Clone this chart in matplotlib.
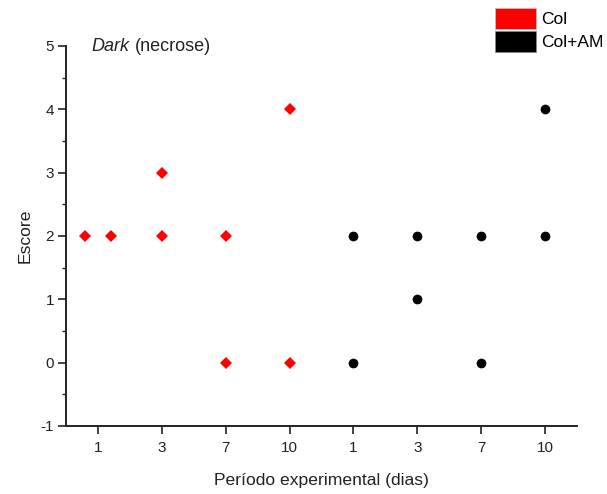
import matplotlib
matplotlib.use("Agg")
import matplotlib.pyplot as plt
from matplotlib.patches import Patch
from matplotlib.ticker import MultipleLocator

plt.rcParams['font.family'] = ['Liberation Sans', 'DejaVu Sans']
plt.rcParams['axes.unicode_minus'] = False

# Category slots along the x axis and their day labels
day_labels = ["1", "3", "7", "10", "1", "3", "7", "10"]

# Scores per animal: slot index (1-based) and score
col_slot = [1, 1, 2, 2, 3, 3, 4, 4]
col_score = [2, 2, 3, 2, 2, 0, 4, 0]
colam_slot = [5, 5, 6, 6, 7, 7, 8, 8]
colam_score = [2, 0, 2, 1, 2, 0, 4, 2]

TEXT = '#222222'


def dodge(slots, scores, step=0.2):
    """Spread coincident points horizontally so they stay visible."""
    xs = []
    for i, (s, v) in enumerate(zip(slots, scores)):
        dup = [j for j, (s2, v2) in enumerate(zip(slots, scores)) if s2 == s and v2 == v]
        if len(dup) > 1:
            k = dup.index(i)
            xs.append(s + (k - (len(dup) - 1) / 2) * 2 * step)
        else:
            xs.append(s)
    return xs


fig = plt.figure(figsize=(6.07, 4.94), dpi=100)
ax = fig.add_axes([0.1087, 0.1377, 0.842, 0.7693])

ax.plot(dodge(col_slot, col_score), col_score, linestyle='none', marker='D',
        markersize=6.5, color='#ff0000', markeredgewidth=0)
ax.plot(dodge(colam_slot, colam_score), colam_score, linestyle='none', marker='o',
        markersize=7, color='#000000', markeredgewidth=0)

ax.set_xlim(0.5, 8.5)
ax.set_ylim(-1, 5)
ax.set_xticks(range(1, len(day_labels) + 1))
ax.set_xticklabels(day_labels)
ax.yaxis.set_major_locator(MultipleLocator(1))
ax.yaxis.set_minor_locator(MultipleLocator(0.5))

for side in ('top', 'right'):
    ax.spines[side].set_visible(False)
for side in ('left', 'bottom'):
    ax.spines[side].set_linewidth(1.4)
    ax.spines[side].set_color(TEXT)

ax.tick_params(axis='both', which='major', direction='out', length=5.5, width=1.2,
               color=TEXT, labelsize=11, labelcolor=TEXT)
ax.tick_params(axis='x', which='major', pad=5)
ax.tick_params(axis='y', which='major', pad=3)
ax.tick_params(axis='y', which='minor', direction='out', length=3, width=1.0,
               color=TEXT)

ax.set_xlabel('Período experimental (dias)', fontsize=12.6, color=TEXT, labelpad=13)
ax.set_ylabel('Escore', fontsize=12.6, color=TEXT, labelpad=6)

dark = ax.text(0.05, 0.998, 'Dark', transform=ax.transAxes, fontsize=13, color=TEXT,
               va='center', ha='left', style='italic')
ax.annotate('(necrose)', xy=(1, 0.5), xycoords=dark, xytext=(3.5, 0),
            textcoords='offset points', fontsize=13, color=TEXT,
            va='center', ha='left')

handles = [Patch(facecolor='#ff0000', edgecolor='#bbbbbb', linewidth=0.6),
           Patch(facecolor='#000000', edgecolor='#888888', linewidth=0.6)]
fig.legend(handles, ['Col', 'Col+AM'], loc='upper left',
           bbox_to_anchor=(495 / 607, 1 - 8 / 494), frameon=False,
           handlelength=2.36, handleheight=1.5, labelspacing=0.1,
           handletextpad=0.3, borderpad=0, borderaxespad=0, fontsize=12.5)

fig.savefig('out.png', dpi=100)
